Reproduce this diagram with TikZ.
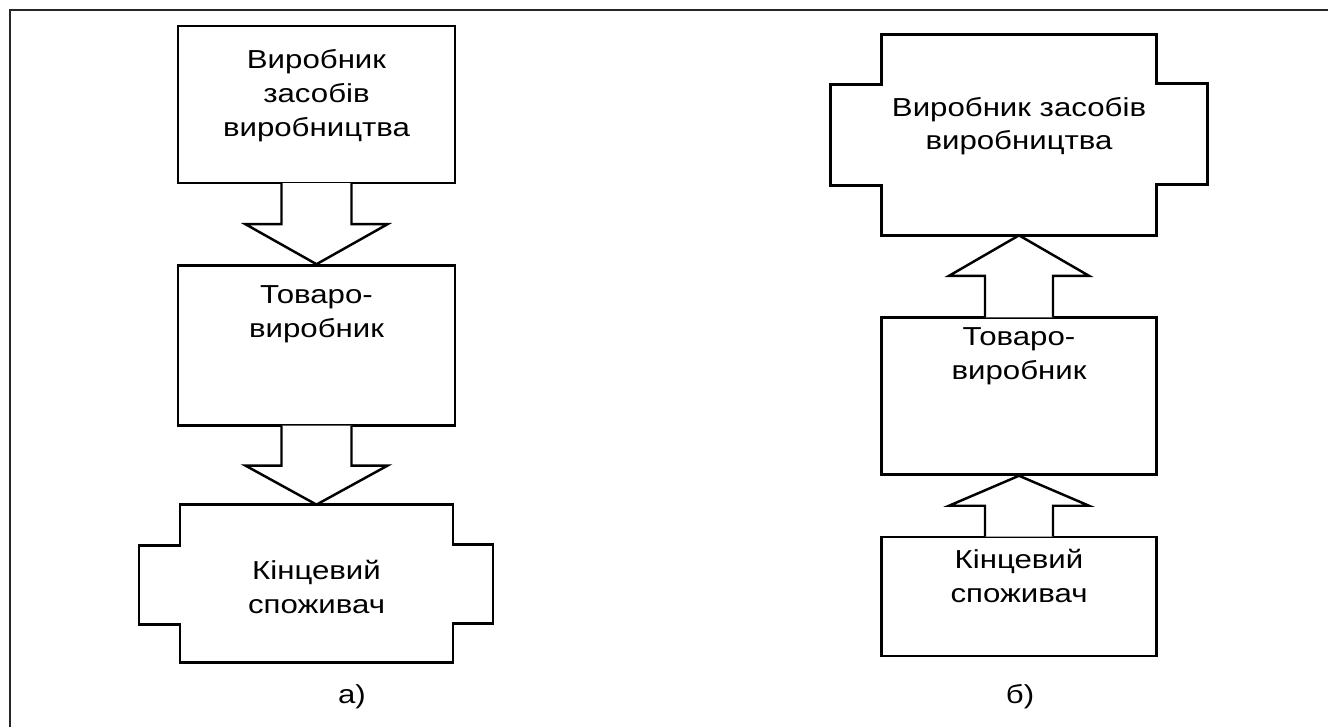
\documentclass[tikz,border=0pt]{standalone}
\usepackage{fontspec}
\setmainfont{Liberation Sans}
\usetikzlibrary{positioning,calc}

\begin{document}
\begin{tikzpicture}[
            x=0.02cm, y=-0.02cm,
            box/.style={rectangle, draw, line width=1.4pt, inner sep=0pt},
            cross/.style={rectangle, inner sep=0pt},
            outline/.style={line width=1.4pt, line join=miter},
            txt/.style={align=center, inner sep=0pt, xscale=1.2, font=\fontsize{14.8pt}{19.3pt}\selectfont},
            flow/.style={line width=1.4pt, fill=white, line join=miter},
            frame/.style={line width=1.7pt, black!85}
        ]
        \useasboundingbox (0,0) rectangle (1328,727);
        \draw[frame] (10,727) -- (10,10) -- (1328,10);
        
        % a)
        \node[box, minimum width=5.54cm, minimum height=3.14cm] (maker_a) at (316.5,104.5) {};
        \node[box, minimum width=5.54cm, minimum height=3.2cm, below=1.6cm of maker_a] (producer_a) {};
        \node[cross, minimum width=5.44cm, minimum height=3.14cm, below=1.56cm of producer_a] (consumer_a) {};
        \draw[outline] (consumer_a.north west) -- (consumer_a.north east) -- ++(0,40) -- ++(40,0) -- ++(0,79) -- ++(-40,0)
            -- (consumer_a.south east) -- (consumer_a.south west) -- ++(0,-38) -- ++(-41,0) -- ++(0,-79) -- ++(41,0) -- cycle;
        
        \node[txt, below=0.48cm of maker_a.north] (maker_a_text) {Виробник\\засобів\\виробництва};
        \node[txt, below=0.42cm of producer_a.north] (producer_a_text) {Товаро-\\виробник};
        \node[txt, below=1.1cm of consumer_a.north] (consumer_a_text) {Кінцевий\\споживач};
        
        \filldraw[flow] ($(maker_a.south)+(-35,-1)$) -- ($(maker_a.south)!.5!(producer_a.north)+(-35,0)$) -- ++(-36,0)
            -- (producer_a.north) -- ($(maker_a.south)!.5!(producer_a.north)+(71,0)$) -- ++(-36,0) -- ($(maker_a.south)+(35,-1)$);
        \filldraw[flow] ($(producer_a.south)+(-35,-1)$) -- ($(producer_a.south)!.5!(consumer_a.north)+(-35,0)$) -- ++(-36,0)
            -- (consumer_a.north) -- ($(producer_a.south)!.5!(consumer_a.north)+(71,0)$) -- ++(-36,0) -- ($(producer_a.south)+(35,-1)$);
        
        \node[txt] (caption_a) at (352,697) {а)};
        
        % b)
        \node[cross, minimum width=5.48cm, minimum height=4cm] (maker_b) at (1019,135) {};
        \draw[outline] (maker_b.north west) -- (maker_b.north east) -- ++(0,49) -- ++(51,0) -- ++(0,101) -- ++(-51,0)
            -- (maker_b.south east) -- (maker_b.south west) -- ++(0,-50) -- ++(-51,0) -- ++(0,-101) -- ++(51,0) -- cycle;
        \node[box, minimum width=5.5cm, minimum height=3.14cm, below=1.62cm of maker_b] (producer_b) {};
        \node[box, minimum width=5.5cm, minimum height=2.38cm, below=1.2cm of producer_b] (consumer_b) {};
        
        \node[txt, below=1.24cm of maker_b.north] (maker_b_text) {Виробник засобів\\виробництва};
        \node[txt, below=0.22cm of producer_b.north] (producer_b_text) {Товаро-\\виробник};
        \node[txt, below=0.26cm of consumer_b.north] (consumer_b_text) {Кінцевий\\споживач};
        
        \filldraw[flow] ($(producer_b.north)+(-34,1)$) -- ($(producer_b.north)!.5!(maker_b.south)+(-34,0)$) -- ++(-36,0)
            -- (maker_b.south) -- ($(producer_b.north)!.5!(maker_b.south)+(70,0)$) -- ++(-36,0) -- ($(producer_b.north)+(34,1)$);
        \filldraw[flow] ($(consumer_b.north)+(-34,1)$) -- ($(consumer_b.north)!.5!(producer_b.south)+(-34,0)$) -- ++(-36,0)
            -- (producer_b.south) -- ($(consumer_b.north)!.5!(producer_b.south)+(70,0)$) -- ++(-36,0) -- ($(consumer_b.north)+(34,1)$);
        
        \node[txt] (caption_b) at (1020,697) {б)};
        
        \end{tikzpicture}
\end{document}
